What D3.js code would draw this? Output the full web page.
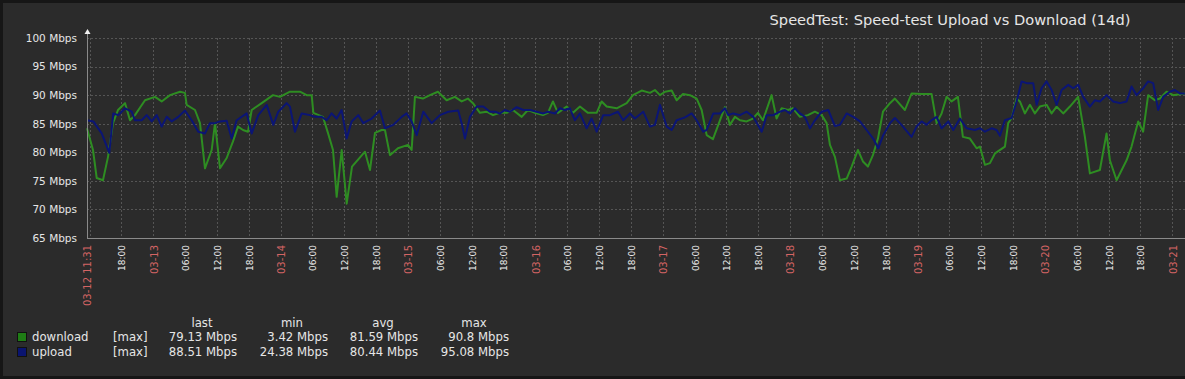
<!DOCTYPE html>
<html><head><meta charset="utf-8">
<script src="https://cdn.jsdelivr.net/npm/d3@7/dist/d3.min.js"></script>
<style>
html,body{margin:0;padding:0;background:#2b2b2b;overflow:hidden}
svg{display:block;font-family:"DejaVu Sans",sans-serif}
</style></head><body>
<svg id="chart" width="1185" height="379"></svg>
<script>
// ---- data ----
const title = "SpeedTest: Speed-test Upload vs Download (14d)";
const startLabel = "03-12 11:31";
const timeStart = new Date(2024, 2, 12, 11, 31);
const spanHours = 207.07;
const yTicks = [65, 70, 75, 80, 85, 90, 95, 100];
const yUnit = " Mbps";

const downloadHours = [0,1.13,1.83,3.01,3.96,4.90,5.84,7.16,8.10,9.04,10.93,12.81,14.07,15.64,17.52,18.46,18.78,20.35,21.29,22.23,23.49,24.12,25.06,26.32,27.51,28.45,29.39,30.33,31.03,32.91,35.04,36.36,38.24,40.13,41.39,42.33,42.65,44.46,45.40,46.35,47.04,47.99,48.93,49.93,52.38,53.32,54.26,55.52,56.14,57.08,58.59,60.47,61.17,61.79,63.30,64.62,66.12,67.76,69.32,70.59,71.77,72.72,74.04,75.30,76.49,77.81,79.07,80.26,81.90,83.08,84.40,85.91,86.85,87.79,88.73,90.37,91.56,92.88,94.39,96.03,96.97,97.91,99.80,101.68,102.87,104.51,106.07,107.01,107.96,108.90,110.16,111.10,112.29,113.61,114.87,115.81,116.76,117.94,119.26,120.20,121.14,122.08,123.03,124.29,125.47,126.41,127.36,128.99,129.93,130.88,132.06,133.01,134.33,135.83,137.15,138.42,139.36,139.98,140.92,141.86,143.13,144.07,145.25,146.20,147.14,148.08,149.03,149.97,151.29,152.22,154.11,155.37,157.25,159.13,160.08,161.02,161.96,162.90,164.09,165.03,166.35,167.62,168.24,169.18,170.13,171.07,172.95,173.57,174.21,175.15,175.77,176.71,177.66,178.60,179.54,180.80,181.75,182.69,183.93,185.19,186.75,188.02,188.96,190.84,192.10,192.73,193.99,195.87,196.81,198.06,199.00,199.94,201.20,202.15,203.41,204.65,206.85];
const downloadMbps = [84.2,80.4,75.5,75.1,79.2,85.1,87.4,88.6,85.6,86.5,89.1,89.7,88.9,90.0,90.6,90.4,88.3,87.4,85.1,77.2,80.4,85.1,77.2,79.0,81.9,84.5,83.9,83.6,87.4,88.6,90.0,89.7,90.6,90.6,90.0,90.0,86.9,86.2,83.4,80.4,72.2,80.4,71.0,77.5,80.1,76.9,83.4,83.9,83.9,79.5,80.7,81.3,80.4,89.7,89.4,90.0,90.6,89.1,89.7,88.9,89.4,88.6,86.9,87.1,86.5,86.9,86.9,87.4,86.2,87.4,86.9,86.5,86.9,88.9,86.9,88.0,86.9,88.0,86.9,86.9,88.9,88.0,87.7,88.6,90.0,90.8,90.4,90.9,90.0,90.6,90.8,89.1,90.2,90.0,89.4,87.4,83.0,82.3,85.6,87.9,84.8,86.2,85.6,85.4,85.9,86.9,85.6,90.0,85.9,87.7,87.4,87.7,86.2,86.5,87.1,86.5,85.1,81.3,79.2,75.1,75.4,77.5,80.4,78.4,77.5,79.5,82.4,87.1,88.6,89.4,87.4,90.3,90.2,90.2,85.1,86.8,89.7,88.9,89.7,82.7,82.4,80.7,81.0,77.8,78.1,79.8,81.0,85.1,86.0,89.4,88.9,86.8,88.3,86.8,88.0,88.3,86.8,88.0,86.8,88.0,89.7,82.7,76.3,76.9,83.3,78.6,75.1,78.6,81.0,85.4,83.6,90.0,89.1,89.4,90.6,90.0,90.3];

const uploadHours = [0,1.19,2.77,4.20,4.95,5.90,7.16,8.42,9.04,10.31,11.25,12.19,13.13,14.07,15.02,15.96,17.20,18.46,19.72,20.97,22.23,23.17,24.12,25.06,26.32,27.26,28.20,30.09,31.03,32.27,33.86,35.10,36.04,37.62,38.24,39.18,40.45,42.01,42.95,44.21,45.15,46.09,47.04,47.98,48.92,49.86,51.11,52.05,53.63,55.20,56.14,57.71,59.29,60.23,61.17,62.11,63.36,64.94,66.50,68.07,69.95,70.59,71.21,72.15,73.42,74.66,75.92,76.86,77.81,78.75,79.69,80.95,82.19,83.46,84.72,85.96,86.90,88.17,89.11,90.05,90.99,91.94,92.88,94.14,95.08,96.03,97.27,98.53,100.04,101.04,102.30,103.24,104.81,106.07,107.01,107.96,109.22,110.16,111.10,112.67,113.93,114.87,116.11,116.75,118.00,119.26,120.20,120.82,121.76,123.03,124.29,125.54,127.12,128.07,129.31,130.56,131.50,132.44,133.39,134.33,135.27,136.22,137.15,138.42,139.66,140.92,141.86,143.13,144.37,145.63,146.89,148.13,149.08,150.02,151.29,152.22,153.47,155.36,156.30,157.25,158.19,159.13,160.08,161.02,162.28,163.22,164.47,165.73,167.30,168.24,169.18,170.44,171.39,172.01,172.95,174.21,175.15,176.09,177.04,178.28,178.92,179.86,180.80,181.75,182.69,183.63,184.88,185.82,186.76,187.70,188.96,189.90,190.84,192.10,193.35,194.61,195.87,196.81,197.75,199.00,199.94,200.88,201.83,202.77,204.03,204.97,205.91,206.85];
const uploadMbps = [85.6,85.4,83.3,79.9,86.8,86.5,87.7,87.1,85.6,85.6,86.5,85.4,86.5,84.5,86.2,85.4,86.2,87.3,85.6,83.6,83.3,85.1,85.1,85.4,85.5,82.4,85.6,86.8,83.3,86.5,88.3,84.8,87.1,88.6,88.0,83.6,86.8,86.5,86.2,86.2,85.6,86.8,85.9,87.4,82.4,85.4,86.5,85.1,85.9,87.3,84.2,84.8,86.2,86.8,85.4,83.0,87.1,85.1,86.5,87.1,87.3,85.1,82.4,86.2,88.0,88.0,87.1,87.1,86.8,87.4,87.1,87.9,87.4,87.4,87.1,86.8,87.1,86.8,87.7,87.4,87.7,85.6,86.8,84.2,85.9,83.6,86.5,86.5,87.1,85.6,86.8,85.9,87.1,84.5,84.8,88.3,84.5,83.9,85.6,86.1,86.8,85.6,83.6,83.9,86.8,86.8,87.7,86.5,86.8,86.5,87.1,86.2,83.6,86.5,86.5,87.1,87.4,86.8,87.7,86.8,86.2,84.2,85.6,87.1,87.4,84.6,84.8,86.8,86.2,85.4,83.9,82.4,80.7,83.0,85.1,86.0,84.8,82.7,84.5,85.4,84.8,85.6,86.2,84.2,85.4,83.9,85.9,84.2,83.9,84.2,83.6,84.2,83.9,82.9,85.6,86.0,88.9,92.4,92.1,92.1,88.3,91.2,92.4,90.9,88.3,90.9,91.8,91.2,91.8,89.7,88.0,89.1,88.9,90.0,88.9,88.6,88.9,91.5,90.0,91.2,92.4,92.1,87.4,89.7,90.6,90.9,90.3,90.3];

const legendNames = ["download", "upload"];
const legendColors = ["#1f7d15", "#0a1470"];
const lineColors = ["#2e8d22", "#0b1575"];
const legendFunc = ["[max]", "[max]"];
const legendHeaders = ["last", "min", "avg", "max"];
const legendLast = ["79.13 Mbps", "88.51 Mbps"];
const legendMin = ["3.42 Mbps", "24.38 Mbps"];
const legendAvg = ["81.59 Mbps", "80.44 Mbps"];
const legendMax = ["90.8 Mbps", "95.08 Mbps"];

// ---- drawing ----
const svg = d3.select("#chart");
const W = 1185, H = 379;
const plot = {left: 87, right: 1186, top: 38, bottom: 238};
const toDate = h => new Date(+timeStart + h * 3600e3);

svg.append("rect").attr("x", 1.5).attr("y", 1.5).attr("width", W + 5).attr("height", H - 3)
  .attr("fill", "#2b2b2b").attr("stroke", "#161616").attr("stroke-width", 3);

const x = d3.scaleTime().domain([timeStart, toDate(spanHours)]).range([plot.left, plot.right]);
const y = d3.scaleLinear().domain([65, 100]).range([plot.bottom, plot.top]);

// title
svg.append("text").attr("x", 950).attr("y", 20).attr("dy", "0.35em")
  .attr("text-anchor", "middle").attr("fill", "#e6e6e6").style("font-size", "14.6px").text(title);

// grid
const timeTicks = d3.timeHour.every(6).range(toDate(0.01), toDate(spanHours));
const labelTicks = timeTicks.filter(d => (d - timeStart) / 3600e3 > 3);
const grid = svg.append("g");
grid.selectAll("line.h").data(yTicks).join("line")
  .attr("x1", plot.left).attr("x2", W).attr("y1", d => Math.round(y(d)) + 0.5).attr("y2", d => Math.round(y(d)) + 0.5)
  .attr("stroke", "#555").attr("stroke-dasharray", "2,2");
grid.selectAll("line.v").data(timeTicks).join("line")
  .attr("x1", d => Math.round(x(d)) + 0.5).attr("x2", d => Math.round(x(d)) + 0.5)
  .attr("y1", plot.top).attr("y2", plot.bottom)
  .attr("stroke", "#555").attr("stroke-dasharray", "2,2");

// lines
const line = d3.line().x(d => x(d[0])).y(d => y(d[1]));
const series = [
  downloadHours.map((h, i) => [toDate(h), downloadMbps[i]]),
  uploadHours.map((h, i) => [toDate(h), uploadMbps[i]])
];
svg.append("g").selectAll("path").data(series).join("path")
  .attr("d", line).attr("fill", "none")
  .attr("stroke", (d, i) => lineColors[i]).attr("stroke-width", 2).attr("stroke-linejoin", "round");

// axes lines
svg.append("line").attr("x1", plot.left + 0.5).attr("x2", plot.left + 0.5).attr("y1", 31).attr("y2", plot.bottom + 1)
  .attr("stroke", "#8a8a8a");
svg.append("line").attr("x1", plot.left).attr("x2", W).attr("y1", plot.bottom + 0.5).attr("y2", plot.bottom + 0.5)
  .attr("stroke", "#8a8a8a");
svg.append("path").attr("d", `M${plot.left - 2.5},${34} L${plot.left + 3.5},${34} L${plot.left + 0.5},${29} Z`).attr("fill", "#f0f0f0");

// y axis labels
const yAxis = svg.append("g").attr("transform", `translate(${plot.left},0)`)
  .call(d3.axisLeft(y).tickValues(yTicks).tickSize(0).tickPadding(10).tickFormat(d => d + yUnit));
yAxis.select(".domain").remove();
yAxis.selectAll("text").attr("fill", "#e6e6e6").style("font-size", "10.5px").style("font-family", "DejaVu Sans");

// x axis labels
const fmtDay = d3.timeFormat("%m-%d"), fmtTime = d3.timeFormat("%H:%M");
const isDay = d => d.getHours() === 0;
const xAxis = svg.append("g").attr("transform", `translate(0,${plot.bottom})`)
  .call(d3.axisBottom(x).tickValues([timeStart, ...labelTicks]).tickSize(0)
    .tickFormat(d => +d === +timeStart ? startLabel : (isDay(d) ? fmtDay(d) : fmtTime(d))));
xAxis.select(".domain").remove();
xAxis.selectAll("text")
  .attr("transform", "rotate(-90)").attr("x", -7).attr("y", 0).attr("dy", "0.38em")
  .style("text-anchor", "end").style("font-family", "DejaVu Sans")
  .style("font-size", d => (+d === +timeStart || isDay(d)) ? "10px" : "9px")
  .attr("fill", d => (+d === +timeStart || isDay(d)) ? "#d46464" : "#ececec");

// legend
const lg = svg.append("g").style("font-size", "11.7px").attr("fill", "#e6e6e6");
const colRight = [237, 328, 418, 509];
const headerX = [202, 292, 383, 474];
const rowY = [337, 352];
lg.selectAll("text.hdr").data(legendHeaders).join("text")
  .attr("x", (d, i) => headerX[i]).attr("y", 323).attr("dy", "0.35em").attr("text-anchor", "middle").text(d => d);
legendNames.forEach((name, i) => {
  lg.append("rect").attr("x", 17.5).attr("y", rowY[i] - 4.5).attr("width", 9).attr("height", 9)
    .attr("fill", legendColors[i]).attr("stroke", "#111");
  lg.append("text").attr("x", 32).attr("y", rowY[i]).attr("dy", "0.35em").text(name);
  lg.append("text").attr("x", 113).attr("y", rowY[i]).attr("dy", "0.35em").text(legendFunc[i]);
  [legendLast, legendMin, legendAvg, legendMax].forEach((arr, j) => {
    lg.append("text").attr("x", colRight[j]).attr("y", rowY[i]).attr("dy", "0.35em")
      .attr("text-anchor", "end").text(arr[i]);
  });
});
</script></body></html>
